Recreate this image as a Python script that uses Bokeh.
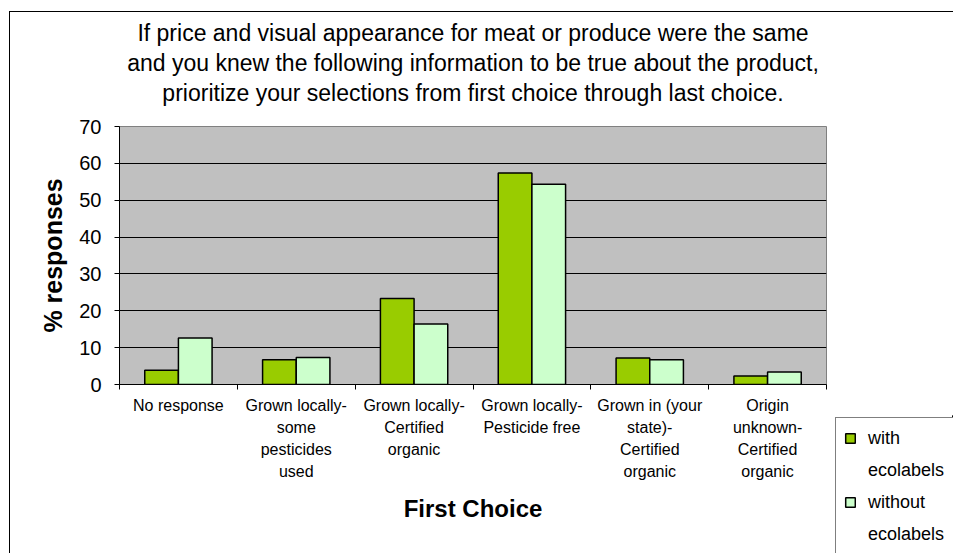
from bokeh.plotting import figure
from bokeh.layouts import row, column
from bokeh.models import (ColumnDataSource, Range1d, FixedTicker, Legend, LegendItem,
                          Title, Spacer)
from bokeh.transform import dodge
from bokeh.embed import file_html
from bokeh.resources import INLINE

# ---------------- data ----------------
categories = [
    "No response",
    "Grown locally-\nsome\npesticides\nused",
    "Grown locally-\nCertified\norganic",
    "Grown locally-\nPesticide free",
    "Grown in (your\nstate)-\nCertified\norganic",
    "Origin\nunknown-\nCertified\norganic",
]
with_ecolabels = [3.9, 6.7, 23.3, 57.4, 7.2, 2.3]
without_ecolabels = [12.6, 7.3, 16.4, 54.3, 6.7, 3.4]
series_names = ["with\necolabels", "without\necolabels"]
series_colors = ["#99CC00", "#CCFFCC"]
y_ticks = [0, 10, 20, 30, 40, 50, 60, 70]
title_lines = [
    "If price and visual appearance for meat or produce were the same",
    "and you knew the following information to be true about the product,",
    "prioritize your selections from first choice through last choice.",
]
x_title = "First Choice"
y_title = "% responses"

# ---------------- main chart ----------------
FONT = "Liberation Sans"
H = 541
W1, W2 = 823, 120
p = figure(width=W1, height=H, output_backend="svg", toolbar_location=None,
           x_range=Range1d(0, len(categories)), y_range=Range1d(0, max(y_ticks)),
           min_border_left=109, min_border_right=7, min_border_top=114,
           min_border_bottom=169)
p.title = None

p.background_fill_color = "#C0C0C0"
p.border_fill_color = "white"
p.outline_line_color = "#808080"
p.outline_line_width = 1

centers = [i + 0.5 for i in range(len(categories))]
src = ColumnDataSource(dict(x=centers, w=with_ecolabels, wo=without_ecolabels))
bw = 0.2857
bar_style = dict(line_color="black", line_width=1.5)
r1 = p.vbar(x=dodge("x", -bw / 2), top="w", width=bw, source=src,
            fill_color=series_colors[0], **bar_style)
r2 = p.vbar(x=dodge("x", bw / 2), top="wo", width=bw, source=src,
            fill_color=series_colors[1], **bar_style)

# title: a thin spacer next to the plot, then one centred Title per line
p.add_layout(Title(text="\u00a0", standoff=16, text_font_size="2px",
                   text_color="white"), "above")
for line in reversed(title_lines):
    p.add_layout(Title(text=line, align="center", standoff=2,
                       text_font=FONT, text_font_size="23px",
                       text_font_style="normal", text_color="black"), "above")

# x axis
xa = p.xaxis[0]
xa.ticker = FixedTicker(ticks=centers, minor_ticks=list(range(len(categories) + 1)))
xa.major_label_overrides = {c: lab for c, lab in zip(centers, categories)}
xa.major_tick_out = 0
xa.major_tick_in = 0
xa.minor_tick_out = 5
xa.minor_tick_in = 0
xa.minor_tick_line_color = "black"
xa.axis_line_color = "black"
xa.major_label_text_font = FONT
xa.major_label_text_font_size = "16px"
xa.major_label_text_line_height = 1.3
xa.major_label_text_color = "black"
xa.major_label_standoff = 7
xa.axis_label = x_title
xa.axis_label_text_font = FONT
xa.axis_label_text_font_size = "24px"
xa.axis_label_text_font_style = "bold"
xa.axis_label_text_color = "black"
xa.axis_label_standoff = 12

# y axis
ya = p.yaxis[0]
ya.ticker = FixedTicker(ticks=y_ticks)
ya.major_tick_out = 5
ya.major_tick_in = 0
ya.minor_tick_out = 0
ya.minor_tick_in = 0
ya.major_tick_line_color = "black"
ya.axis_line_color = "black"
ya.major_label_text_font = FONT
ya.major_label_text_font_size = "20px"
ya.major_label_text_color = "black"
ya.major_label_standoff = 13
ya.axis_label = y_title
ya.axis_label_text_font = FONT
ya.axis_label_text_font_size = "25px"
ya.axis_label_text_font_style = "bold"
ya.axis_label_text_color = "black"
ya.axis_label_standoff = 9

p.xgrid.visible = False
p.ygrid.grid_line_color = "black"
p.ygrid.grid_line_width = 1

# ---------------- legend panel (bottom right) ----------------
LEG_TOP = 403          # distance of the legend panel below the chart's top edge
H2 = H - LEG_TOP
p2 = figure(width=W2, height=H2, output_backend="svg", toolbar_location=None,
            x_range=Range1d(-2, -1), y_range=Range1d(0, 1),
            x_axis_location=None, y_axis_location=None,
            min_border=0, min_border_left=0, min_border_right=0,
            min_border_top=0, min_border_bottom=0)
p2.title = None
p2.outline_line_color = None
p2.background_fill_color = "white"
p2.border_fill_color = "white"
p2.xgrid.visible = False
p2.ygrid.visible = False

# legend proxies share the chart data but sit outside this panel's view
g1 = p2.vbar(x=dodge("x", -bw / 2), top="w", width=bw, source=src,
             fill_color=series_colors[0], **bar_style)
g2 = p2.vbar(x=dodge("x", bw / 2), top="wo", width=bw, source=src,
             fill_color=series_colors[1], **bar_style)
blank = p2.vbar(x="x", top="w", width=bw, source=src, fill_alpha=0, line_alpha=0)

items = []
for name, g in zip(series_names, [g1, g2]):
    first, second = name.split("\n")
    items.append(LegendItem(label=first, renderers=[g]))
    items.append(LegendItem(label=second, renderers=[blank]))

legend = Legend(items=items, location=(2, -2))
legend.margin = 0
legend.padding = 8
legend.spacing = 8
legend.glyph_width = 12
legend.glyph_height = 12
legend.label_height = 24
legend.label_width = 95
legend.label_standoff = 12
legend.label_text_font = FONT
legend.label_text_font_size = "18px"
legend.label_text_color = "black"
legend.border_line_color = "black"
legend.border_line_width = 1
legend.background_fill_color = "white"
legend.background_fill_alpha = 1
p2.add_layout(legend)

right_col = column(Spacer(width=W2, height=LEG_TOP), p2, spacing=0)
layout = row(p, right_col, spacing=0)
layout.margin = (11, 0, 0, 9)
layout.styles = {"border-top": "1px solid black", "border-left": "1px solid black"}

open("out.html", "w").write(file_html(layout, INLINE))
